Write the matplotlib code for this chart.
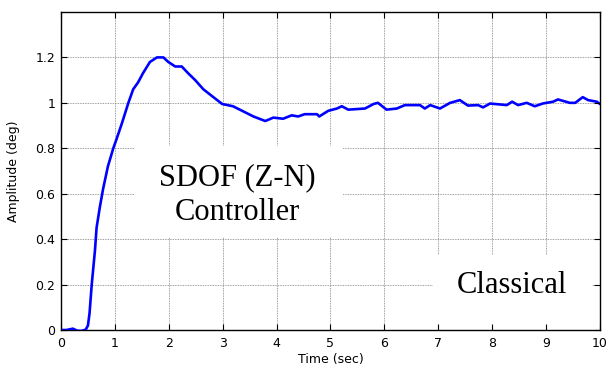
import matplotlib
matplotlib.use('Agg')
import matplotlib.pyplot as plt
from matplotlib.patches import Rectangle
from matplotlib.ticker import FormatStrFormatter

# step response samples, time in sec / amplitude in deg
t = [0, 0.1, 0.22, 0.3, 0.38, 0.46, 0.5, 0.53, 0.57, 0.63, 0.66, 0.72, 0.78,
     0.87, 0.97, 1.03, 1.13, 1.25, 1.34, 1.43, 1.52, 1.65, 1.78, 1.90, 1.99,
     2.12, 2.24, 2.36, 2.49, 2.64, 2.80, 2.99, 3.19, 3.36, 3.57, 3.79, 3.94,
     4.12, 4.28, 4.40, 4.52, 4.75, 4.79, 4.96, 5.12, 5.21, 5.33, 5.64, 5.80,
     5.88, 6.04, 6.23, 6.38, 6.66, 6.75, 6.85, 7.03, 7.22, 7.40, 7.55, 7.74,
     7.83, 7.96, 8.27, 8.37, 8.48, 8.64, 8.79, 8.94, 9.13, 9.22, 9.44, 9.54,
     9.68, 9.78, 9.94, 10.0]
amp = [0, 0, 0.006, -0.003, -0.004, 0.002, 0.02, 0.075, 0.2, 0.35, 0.45, 0.54,
       0.62, 0.72, 0.80, 0.84, 0.91, 1.0, 1.06, 1.09, 1.13, 1.18, 1.20, 1.20,
       1.18, 1.16, 1.16, 1.13, 1.10, 1.06, 1.03, 0.995, 0.985, 0.965, 0.94,
       0.92, 0.935, 0.93, 0.945, 0.94, 0.95, 0.95, 0.94, 0.965, 0.975, 0.985,
       0.97, 0.975, 0.995, 1.0, 0.97, 0.975, 0.99, 0.99, 0.975, 0.99, 0.975,
       1.0, 1.012, 0.988, 0.99, 0.98, 0.997, 0.99, 1.005, 0.99, 1.0, 0.985,
       0.997, 1.005, 1.015, 1.0, 1.0, 1.025, 1.012, 1.005, 0.995]

xticks = list(range(0, 11))
yticks = [0, 0.2, 0.4, 0.6, 0.8, 1.0, 1.2]

plt.rcParams['font.family'] = 'DejaVu Sans'
plt.rcParams['font.size'] = 9

fig = plt.figure(figsize=(6.1, 3.74), dpi=100)
pos = [0.1, 0.1176, 0.8836, 0.8504]
ax = fig.add_axes(pos)
ax.set_axisbelow(True)
ax.plot(t, amp, color='#0000ff', lw=1.9, zorder=3)
ax.set_xlim(0, 10)
ax.set_ylim(0, 1.4)
ax.set_xticks(xticks)
ax.set_yticks(yticks)
ax.yaxis.set_major_formatter(FormatStrFormatter('%g'))
ax.grid(True, color='0.5', linestyle=(0, (1, 1)), lw=0.6)
ax.tick_params(direction='in', length=0, pad=4, labelsize=9)
ax.tick_params(axis='x', pad=5)
for s in ax.spines.values():
    s.set_linewidth(1.0)
ax.set_xlabel('Time (sec)', fontsize=9, labelpad=2)
ax.set_ylabel('Amplitude (deg)', fontsize=9, labelpad=11)

# white label boxes
ax.add_patch(Rectangle((1.373, 0.41), 5.23 - 1.373, 0.808 - 0.41,
                       facecolor='white', edgecolor='none', zorder=1))
ax.add_patch(Rectangle((6.90, 0), 9.85 - 6.90, 0.33,
                       facecolor='white', edgecolor='none', zorder=1))
ax.text(3.28, 0.639, 'SDOF (Z-N)', family='Liberation Serif', fontsize=22,
        ha='center', va='baseline', zorder=4)
ax.text(3.28, 0.485, 'Controller', family='Liberation Serif', fontsize=22,
        ha='center', va='baseline', zorder=4)
ax.text(8.36, 0.163, 'Classical', family='Liberation Serif', fontsize=22,
        ha='center', va='baseline', zorder=4)

# tick marks drawn on top of the boxes
axt = fig.add_axes(pos, frameon=False)
axt.set_xlim(0, 10)
axt.set_ylim(0, 1.4)
axt.set_xticks(xticks)
axt.set_yticks(yticks)
axt.patch.set_visible(False)
axt.tick_params(direction='in', length=4, width=0.8, top=True, right=True,
                labelbottom=False, labelleft=False)

fig.savefig('out.png', dpi=100)
